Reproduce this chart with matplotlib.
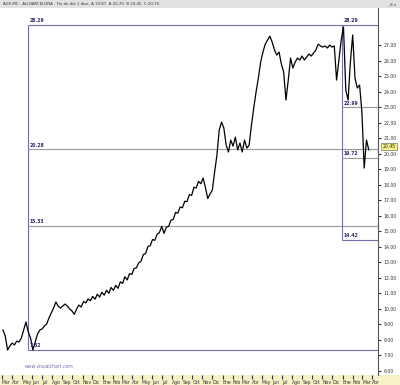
import numpy as np
import pandas as pd
import matplotlib
matplotlib.use("Agg")
import matplotlib.pyplot as plt
import matplotlib.dates as mdates
import matplotlib.transforms as mtransforms
from matplotlib.patches import Rectangle

# weekly closes
dates = pd.date_range("2005-03-04", periods=160, freq="W-FRI")
close = [
    8.61, 8.23, 7.32, 7.58, 7.77, 7.65, 7.90, 7.84, 8.10, 8.61,
    9.13, 8.48, 8.10, 7.32, 7.84, 8.35, 8.61, 8.68, 8.87, 9.00,
    9.39, 9.71, 10.03, 10.42, 10.16, 10.03, 10.16, 10.29, 10.16, 9.97,
    9.84, 9.62, 9.97, 10.22, 10.10, 10.45, 10.36, 10.62, 10.50, 10.78,
    10.60, 10.92, 10.74, 11.05, 10.86, 11.18, 10.98, 11.36, 11.17, 11.50,
    11.30, 11.72, 11.62, 12.05, 11.84, 12.25, 12.20, 12.58, 12.62, 12.95,
    13.05, 13.48, 13.55, 14.00, 14.05, 14.45, 14.40, 14.80, 14.90, 15.30,
    14.85, 15.25, 15.30, 15.70, 15.75, 16.20, 16.15, 16.55, 16.50, 16.92,
    16.90, 17.35, 17.30, 17.82, 17.78, 18.20, 18.05, 18.42, 17.80, 17.10,
    17.39, 17.65, 18.81, 19.90, 21.52, 22.03, 21.65, 20.55, 20.10, 20.87,
    20.48, 21.06, 20.23, 20.68, 20.10, 20.87, 20.35, 20.55, 21.84, 22.94,
    23.97, 24.87, 25.90, 26.55, 27.06, 27.32, 27.58, 27.19, 26.68, 26.35,
    26.55, 25.77, 25.26, 23.45, 24.74, 26.16, 25.52, 25.90, 26.16, 26.03,
    26.29, 26.03, 26.23, 26.42, 26.29, 26.48, 26.68, 27.06, 26.94, 26.87,
    26.94, 26.81, 27.00, 26.87, 26.94, 24.74, 26.03, 27.32, 28.16, 24.10,
    23.45, 25.90, 27.65, 24.87, 24.23, 24.42, 22.68, 19.06, 20.87, 20.23,
]

# Fibonacci retracements drawn on the chart
fib_high = 28.29
fib1_start = "2005-05-19"
fib1_low = 7.32
fib1_levels = [20.28, 15.33]
fib2_start = "2007-12-31"
fib2_low = 14.42
fib2_levels = [22.99, 19.72]
last_price = 20.45

y_ticks = list(range(6, 28))
months_es = ["Ene", "Feb", "Mar", "Abr", "May", "Jun",
             "Jul", "Ago", "Sep", "Oct", "Nov", "Dic"]

fig = plt.figure(figsize=(4, 3.85), dpi=100)
H = 385.0
ax = fig.add_axes([0, 10 / H, 378 / 400, 367 / H])

ax.plot(dates, close, color="black", lw=0.9, zorder=3)

x_right = pd.Timestamp("2008-04-18")
ax.set_xlim(pd.Timestamp("2005-02-23"), x_right)
ax.set_ylim(5.71, 29.39)

box_c = "#6e6ea8"
grey_c = "#9a9a9a"
fsz = 3.3
lab_c = "#2c2c6a"

# left retracement box
x1 = pd.Timestamp(fib1_start)
ax.vlines(x1, fib1_low, fib_high, color=box_c, lw=0.8)
ax.hlines(fib_high, x1, x_right, color=box_c, lw=0.8)
ax.hlines(fib1_low, x1, x_right, color=box_c, lw=0.8)
ax.hlines(fib1_levels, x1, x_right, color=grey_c, lw=0.8)
for v in [fib_high] + fib1_levels + [fib1_low]:
    ax.text(x1 + pd.Timedelta(days=5), v + 0.1, f"{v:.2f}", fontsize=fsz,
            color=lab_c, va="bottom", ha="left", fontweight="bold")

# right retracement box
x2 = pd.Timestamp(fib2_start)
ax.vlines(x2, fib2_low, fib_high, color=box_c, lw=0.8)
ax.hlines(fib2_low, x2, x_right, color=box_c, lw=0.8)
ax.hlines(fib2_levels, x2, x_right, color=grey_c, lw=0.8)
for v in [fib_high] + fib2_levels + [fib2_low]:
    ax.text(x2 + pd.Timedelta(days=5), v + 0.1, f"{v:.2f}", fontsize=fsz,
            color=lab_c, va="bottom", ha="left", fontweight="bold")

# right price axis
ax.yaxis.tick_right()
ax.set_yticks(y_ticks)
ax.set_yticklabels([f"{v:.2f}" for v in y_ticks])
ax.tick_params(axis="y", labelsize=fsz, length=2, pad=2, colors="#333333")

tr = mtransforms.blended_transform_factory(ax.transAxes, ax.transData)
ax.text(1.012, last_price, f"{last_price:.2f}", transform=tr, fontsize=fsz,
        va="center", ha="left", color="#222222", zorder=5,
        bbox=dict(boxstyle="square,pad=0.25", fc="#f4f08a", ec="#555555", lw=0.4),
        clip_on=False)

# month ticks along the bottom
months = pd.date_range("2005-03-01", "2008-04-01", freq="MS")
ax.set_xticks(months)
ax.set_xticklabels([months_es[m.month - 1] for m in months])
ax.tick_params(axis="x", direction="out", length=3, pad=0.5, labelsize=fsz,
               colors="#333333")
for lbl in ax.get_xticklabels():
    lbl.set_ha("left")

for s in ["left", "top", "bottom"]:
    ax.spines[s].set_visible(False)
ax.spines["right"].set_color("#555555")
ax.spines["right"].set_linewidth(0.8)

# beige date strip and grey title bar
fig.patches.append(Rectangle((0, 0), 1, 10 / H, transform=fig.transFigure,
                             facecolor="#f6f1c6", edgecolor="none", zorder=-1))
fig.patches.append(Rectangle((0, 1 - 8 / H), 1, 8 / H, transform=fig.transFigure,
                             facecolor="#e2e2e2", edgecolor="none", zorder=-1))
fig.text(3 / 400, 1 - 4 / H, "AGS.MC - AG.BARCELONA - Fin de dia 1 dias  A 19,87  A 20,70  B 20,45  C 20,70",
         fontsize=2.8, va="center", ha="left", color="#333333")
fig.text(396 / 400, 1 - 4 / H, "_ 8 x", fontsize=2.8, va="center", ha="right",
         color="#333333")
fig.text(25 / 400, 1 - 366 / H, "www.visualchart.com", fontsize=3.3,
         va="center", ha="left", color="#7070a8")

fig.savefig("out.png", dpi=100)
